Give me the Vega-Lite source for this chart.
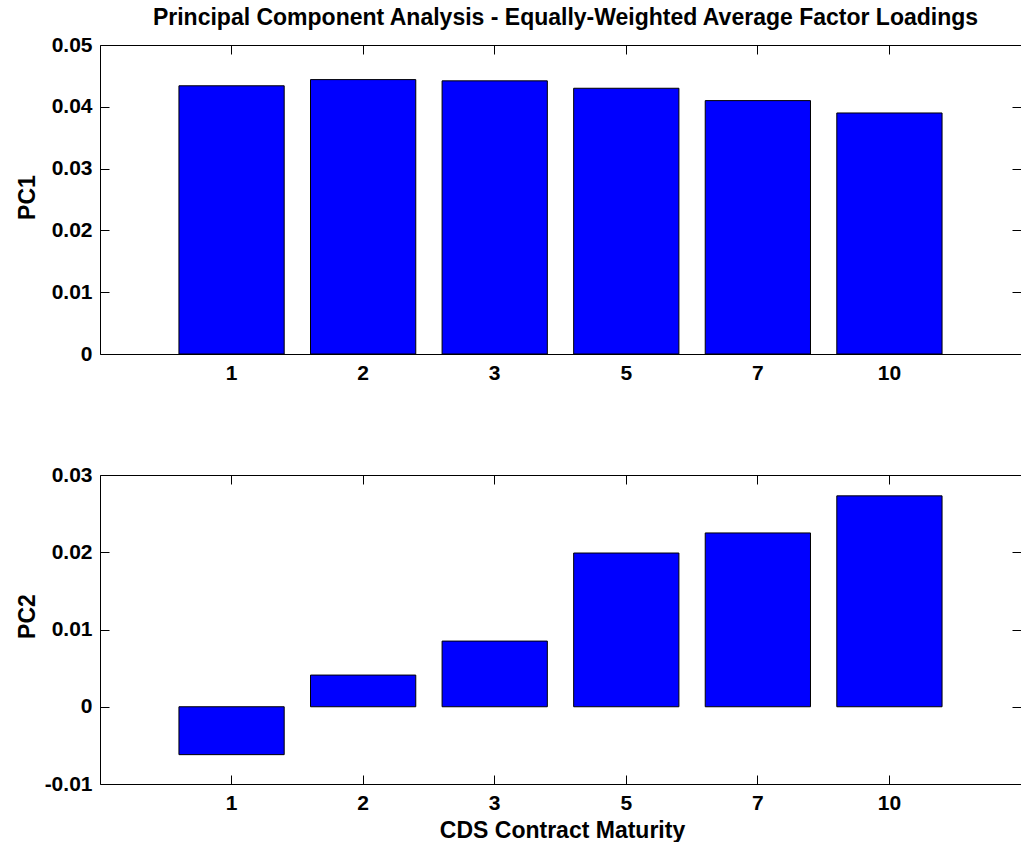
{
  "$schema": "https://vega.github.io/schema/vega-lite/v6.json",
  "background": "white",
  "padding": {"left": 16, "top": 7, "right": 0, "bottom": 0},
  "bounds": "flush",
  "spacing": 121,
  "config": {
    "view": {"stroke": null},
    "font": "Liberation Sans",
    "axis": {
      "grid": false,
      "domainColor": "#000000",
      "tickColor": "#000000",
      "labelColor": "#000000",
      "titleColor": "#000000",
      "labelFont": "Liberation Sans",
      "titleFont": "Liberation Sans",
      "labelFontSize": 21,
      "labelFontWeight": "bold",
      "titleFontSize": 23,
      "titleFontWeight": "bold",
      "tickSize": -9,
      "domainWidth": 1,
      "tickWidth": 1
    }
  },
  "datasets": {
    "loadings": [
      {"maturity": "1", "pc1": 0.0434, "pc2": -0.0062},
      {"maturity": "2", "pc1": 0.0444, "pc2": 0.0041},
      {"maturity": "3", "pc1": 0.0442, "pc2": 0.0085},
      {"maturity": "5", "pc1": 0.0430, "pc2": 0.0199},
      {"maturity": "7", "pc1": 0.0410, "pc2": 0.0225},
      {"maturity": "10", "pc1": 0.0390, "pc2": 0.0273}
    ]
  },
  "vconcat": [
    {
      "width": 921,
      "height": 309,
      "title": {
        "text": "Principal Component Analysis - Equally-Weighted Average Factor Loadings",
        "font": "Liberation Sans",
        "fontSize": 23,
        "fontWeight": "bold",
        "color": "#000000",
        "anchor": "middle",
        "baseline": "alphabetic",
        "offset": -14,
        "dx": 5
      },
      "data": {"name": "loadings"},
      "layer": [
        {
          "mark": {"type": "bar", "fill": "#0000ff", "stroke": "#000000", "strokeWidth": 1},
          "encoding": {
            "x": {
              "field": "maturity", "type": "ordinal",
              "sort": ["1", "2", "3", "5", "7", "10"],
              "scale": {"paddingInner": 0.2, "paddingOuter": 0.6},
              "axis": {"orient": "bottom", "title": null, "labelAngle": 0, "labelPadding": 17, "bandPosition": 0.5}
            },
            "y": {
              "field": "pc1", "type": "quantitative",
              "scale": {"domain": [0, 0.05], "nice": false},
              "axis": {
                "orient": "left",
                "values": [0, 0.01, 0.02, 0.03, 0.04, 0.05],
                "labelExpr": "replace(format(datum.value, '.2~f'), '\u2212', '-')",
                "labelPadding": 17,
                "title": "PC1",
                "titleAngle": 270,
                "titleAlign": "center",
                "titleBaseline": "middle",
                "titleX": -73,
                "titleY": 152
              }
            }
          }
        },
        {
          "mark": {"type": "bar", "opacity": 0},
          "encoding": {
            "x": {
              "field": "maturity", "type": "ordinal",
              "sort": ["1", "2", "3", "5", "7", "10"],
              "axis": {"orient": "top", "title": null, "labels": false, "bandPosition": 0.5}
            },
            "y": {
              "field": "pc1", "type": "quantitative",
              "axis": {"orient": "right", "title": null, "labels": false, "domain": false, "values": [0, 0.01, 0.02, 0.03, 0.04, 0.05]}
            }
          }
        }
      ],
      "resolve": {"axis": {"x": "independent", "y": "independent"}}
    },
    {
      "width": 921,
      "height": 309,
      "data": {"name": "loadings"},
      "layer": [
        {
          "mark": {"type": "bar", "fill": "#0000ff", "stroke": "#000000", "strokeWidth": 1},
          "encoding": {
            "x": {
              "field": "maturity", "type": "ordinal",
              "sort": ["1", "2", "3", "5", "7", "10"],
              "scale": {"paddingInner": 0.2, "paddingOuter": 0.6},
              "axis": {
                "orient": "bottom", "labelAngle": 0, "labelPadding": 17, "bandPosition": 0.5,
                "title": "CDS Contract Maturity",
                "titleX": 462,
                "titleY": 53,
                "titleAlign": "center",
                "titleBaseline": "alphabetic"
              }
            },
            "y": {
              "field": "pc2", "type": "quantitative",
              "scale": {"domain": [-0.01, 0.03], "nice": false},
              "axis": {
                "orient": "left",
                "values": [-0.01, 0, 0.01, 0.02, 0.03],
                "labelExpr": "replace(format(datum.value, '.2~f'), '\u2212', '-')",
                "labelPadding": 17,
                "title": "PC2",
                "titleAngle": 270,
                "titleAlign": "center",
                "titleBaseline": "middle",
                "titleX": -73,
                "titleY": 141
              }
            }
          }
        },
        {
          "mark": {"type": "bar", "opacity": 0},
          "encoding": {
            "x": {
              "field": "maturity", "type": "ordinal",
              "sort": ["1", "2", "3", "5", "7", "10"],
              "axis": {"orient": "top", "title": null, "labels": false, "bandPosition": 0.5}
            },
            "y": {
              "field": "pc2", "type": "quantitative",
              "axis": {"orient": "right", "title": null, "labels": false, "domain": false, "values": [-0.01, 0, 0.01, 0.02, 0.03]}
            }
          }
        }
      ],
      "resolve": {"axis": {"x": "independent", "y": "independent"}}
    }
  ]
}
